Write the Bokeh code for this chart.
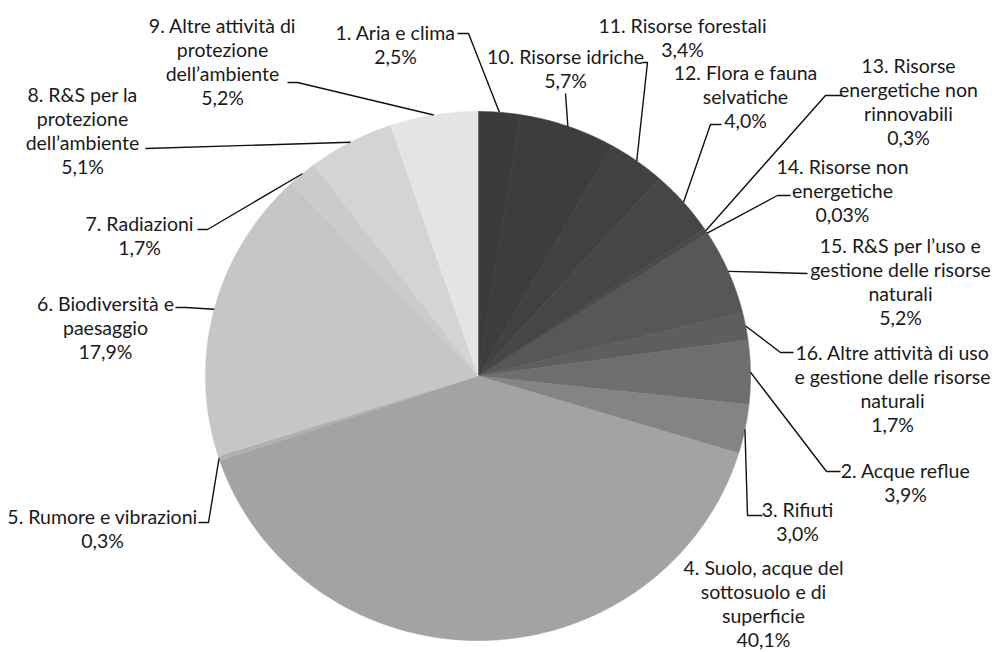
import numpy as np
from bokeh.plotting import figure
from bokeh.models import Range1d, ColumnDataSource
from bokeh.core.properties import value
from bokeh.embed import file_html
from bokeh.resources import INLINE

# ---------------- data (in drawing order, clockwise from 12 o'clock) ----------------
categories = [
    "1. Aria e clima",
    "10. Risorse idriche",
    "11. Risorse forestali",
    "12. Flora e fauna\nselvatiche",
    "13. Risorse\nenergetiche non\nrinnovabili",
    "14. Risorse non\nenergetiche",
    "15. R&S per l\u2019uso e\ngestione delle risorse\nnaturali",
    "16. Altre attivit\u00e0 di uso\ne gestione delle risorse\nnaturali",
    "2. Acque reflue",
    "3. Rifiuti",
    "4. Suolo, acque del\nsottosuolo e di\nsuperficie",
    "5. Rumore e vibrazioni",
    "6. Biodiversit\u00e0 e\npaesaggio",
    "7. Radiazioni",
    "8. R&S per la\nprotezione\ndell\u2019ambiente",
    "9. Altre attivit\u00e0 di\nprotezione\ndell\u2019ambiente",
]
values = [2.5, 5.7, 3.4, 4.0, 0.3, 0.03, 5.2, 1.7, 3.9, 3.0, 40.1, 0.3, 17.9, 1.7, 5.1, 5.2]

# ---------------- styling / layout ----------------
colors = ["#3b3b3b", "#3d3d3d", "#414141", "#464646", "#4a4a4a", "#4d4d4d",
          "#575757", "#5e5e5e", "#6e6e6e", "#848484", "#a3a3a3", "#b0b0b0",
          "#c6c6c6", "#cbcbcb", "#d4d4d4", "#e4e4e4"]

W, H = 992, 652
CX, CY, RX, RY = 477.5, 375.5, 272.5, 264.5

label_pos = [
    (395, 44), (565, 68), (682, 37), (745, 96), (908, 101), (842, 190),
    (900, 281), (892, 388), (905, 482), (797, 521), (763, 603), (102, 528),
    (105, 327), (139, 235), (82, 130), (222, 61),
]
leader_pts = [
    [(468, 33), (457, 33)],
    [(565, 93)],
    [(647, 62), (642, 62)],
    [(710, 124), (721, 124)],
    [(825, 95), (842, 95)],
    [(777, 195), (790, 195)],
    [(807, 273)],
    [(780, 352), (793, 352)],
    [(826, 471), (840, 471)],
    [(747, 515), (762, 515)],
    None,
    [(208, 522), (198, 522)],
    [(185, 307), (175, 307)],
    [(207, 229), (197, 229)],
    [(145, 148)],
    [(297, 82), (287, 82)],
]


def fmt(v):
    s = f"{v:.2f}" if v < 0.1 else f"{v:.1f}"
    return s.replace(".", ",") + "%"


vals = np.array(values, dtype=float)
cum = np.concatenate([[0.0], np.cumsum(vals)]) / vals.sum() * 2 * np.pi

xs, ys = [], []
for i in range(len(vals)):
    n = max(3, int(np.degrees(cum[i + 1] - cum[i])) + 2)
    th = np.linspace(cum[i], cum[i + 1], n)
    xs.append([CX] + list(CX + RX * np.sin(th)))
    ys.append([CY] + list(CY - RY * np.cos(th)))

p = figure(width=W, height=H, x_range=Range1d(0, W), y_range=Range1d(H, 0),
           output_backend="svg", toolbar_location=None, min_border=0,
           x_axis_location=None, y_axis_location=None)
p.grid.visible = False
p.outline_line_color = None
p.background_fill_color = "white"

p.patches(xs=xs, ys=ys, fill_color=colors, line_color=colors, line_width=0.6)

# leader lines from slice mid-angle on the rim
lx, ly = [], []
for i in range(len(vals)):
    if leader_pts[i] is None:
        continue
    mid = 0.5 * (cum[i] + cum[i + 1])
    ex = CX + RX * np.sin(mid)
    ey = CY - RY * np.cos(mid)
    lx.append([ex] + [pt[0] for pt in leader_pts[i]])
    ly.append([ey] + [pt[1] for pt in leader_pts[i]])
p.multi_line(xs=lx, ys=ly, line_color="#111111", line_width=1.4)

texts = [c + "\n" + fmt(v) for c, v in zip(categories, values)]
src = ColumnDataSource(dict(x=[q[0] for q in label_pos], y=[q[1] for q in label_pos], t=texts))
p.text(x="x", y="y", text="t", source=src, text_align="center", text_baseline="middle",
       text_font=value("Lato"), text_font_size="19.5px", text_color="#1a1a1a",
       text_line_height=1.04)

open("out.html", "w").write(file_html(p, INLINE))
